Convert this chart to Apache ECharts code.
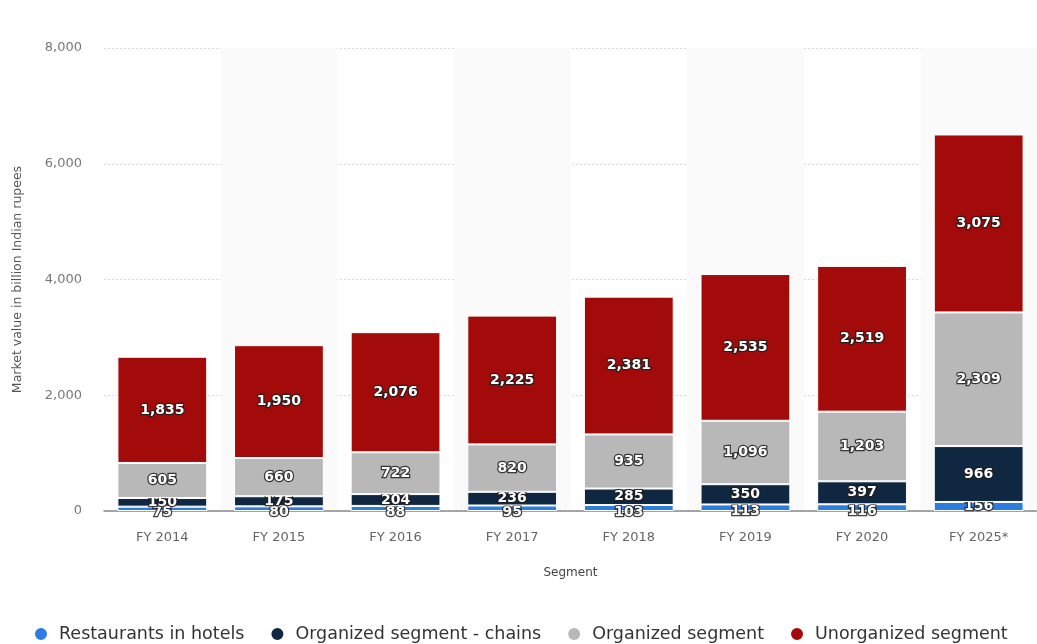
<!DOCTYPE html>
<html>
<head>
<meta charset="utf-8">
<script src="https://cdn.jsdelivr.net/npm/echarts@6/dist/echarts.min.js"></script>
<style>
  html, body { margin: 0; padding: 0; background: #fff; }
  #chart { width: 1037px; height: 644px; }
</style>
</head>
<body>
<div id="chart"></div>
<script>
// Indian food service market value by segment (billion INR)
const categories = ['FY 2014', 'FY 2015', 'FY 2016', 'FY 2017', 'FY 2018', 'FY 2019', 'FY 2020', 'FY 2025*'];
const restaurantsInHotels = [75, 80, 88, 95, 103, 113, 116, 156];
const organizedChains = [150, 175, 204, 236, 285, 350, 397, 966];
const organizedSegment = [605, 660, 722, 820, 935, 1096, 1203, 2309];
const unorganizedSegment = [1835, 1950, 2076, 2225, 2381, 2535, 2519, 3075];
const yTicks = [0, 2000, 4000, 6000, 8000];

const seriesNames = ['Restaurants in hotels', 'Organized segment - chains', 'Organized segment', 'Unorganized segment'];
const seriesColors = ['#2b7de0', '#0f2741', '#b8b8b8', '#a30b0b'];
const seriesData = [restaurantsInHotels, organizedChains, organizedSegment, unorganizedSegment];

const fmt = v => v.toLocaleString('en-US');

const chart = echarts.init(document.getElementById('chart'), null, { renderer: 'canvas' });

// Labels of very thin segments sit a little under the segment
const toItems = (data) => data.map(v => (
  v < 150 ? { value: v, label: { offset: [0, 4] } } : v
));

chart.setOption({
  animation: false,
  color: seriesColors,
  grid: { left: 104, right: 0, top: 48, bottom: 133, containLabel: false },
  legend: {
    top: 620,
    left: 28,
    icon: 'circle',
    itemWidth: 14,
    itemHeight: 14,
    itemGap: 25,
    textStyle: { fontFamily: 'DejaVu Sans', fontSize: 17.5, color: '#333', padding: [0, 0, 0, 6] },
    data: seriesNames
  },
  xAxis: {
    type: 'category',
    data: categories,
    name: 'Segment',
    nameLocation: 'middle',
    nameGap: 56,
    nameTextStyle: { fontFamily: 'DejaVu Sans', fontSize: 12, color: '#444' },
    axisLine: { lineStyle: { color: '#8a8a8a', width: 1.5 } },
    axisTick: { show: false },
    axisLabel: { fontFamily: 'DejaVu Sans', fontSize: 13, color: '#666', margin: 20 },
    splitArea: { show: true, areaStyle: { color: ['rgba(255,255,255,0)', '#fafafa'] } }
  },
  yAxis: {
    type: 'value',
    min: 0,
    max: yTicks[yTicks.length - 1],
    interval: yTicks[1] - yTicks[0],
    name: 'Market value in billion Indian rupees',
    nameLocation: 'middle',
    nameGap: 80,
    nameTextStyle: { fontFamily: 'DejaVu Sans', fontSize: 12.5, color: '#555' },
    axisLine: { show: false },
    axisTick: { show: false },
    axisLabel: {
      fontFamily: 'DejaVu Sans', fontSize: 13, color: '#777', margin: 22,
      formatter: v => fmt(v)
    },
    splitLine: { lineStyle: { color: '#dadada', type: [2, 2] } }
  },
  series: seriesData.map((data, i) => ({
    name: seriesNames[i],
    type: 'bar',
    stack: 'total',
    barCategoryGap: '23%',
    data: i === 0 ? toItems(data) : data,
    z: 2 + i,
    itemStyle: { color: seriesColors[i], borderColor: '#ffffff', borderWidth: 1 },
    label: {
      show: true,
      position: 'inside',
      formatter: p => fmt(p.value),
      fontFamily: 'DejaVu Sans',
      fontWeight: 'bold',
      fontSize: 14,
      color: '#ffffff',
      textBorderColor: 'rgba(30,30,30,0.85)',
      textBorderWidth: 2.5
    }
  }))
});
</script>
</body>
</html>
